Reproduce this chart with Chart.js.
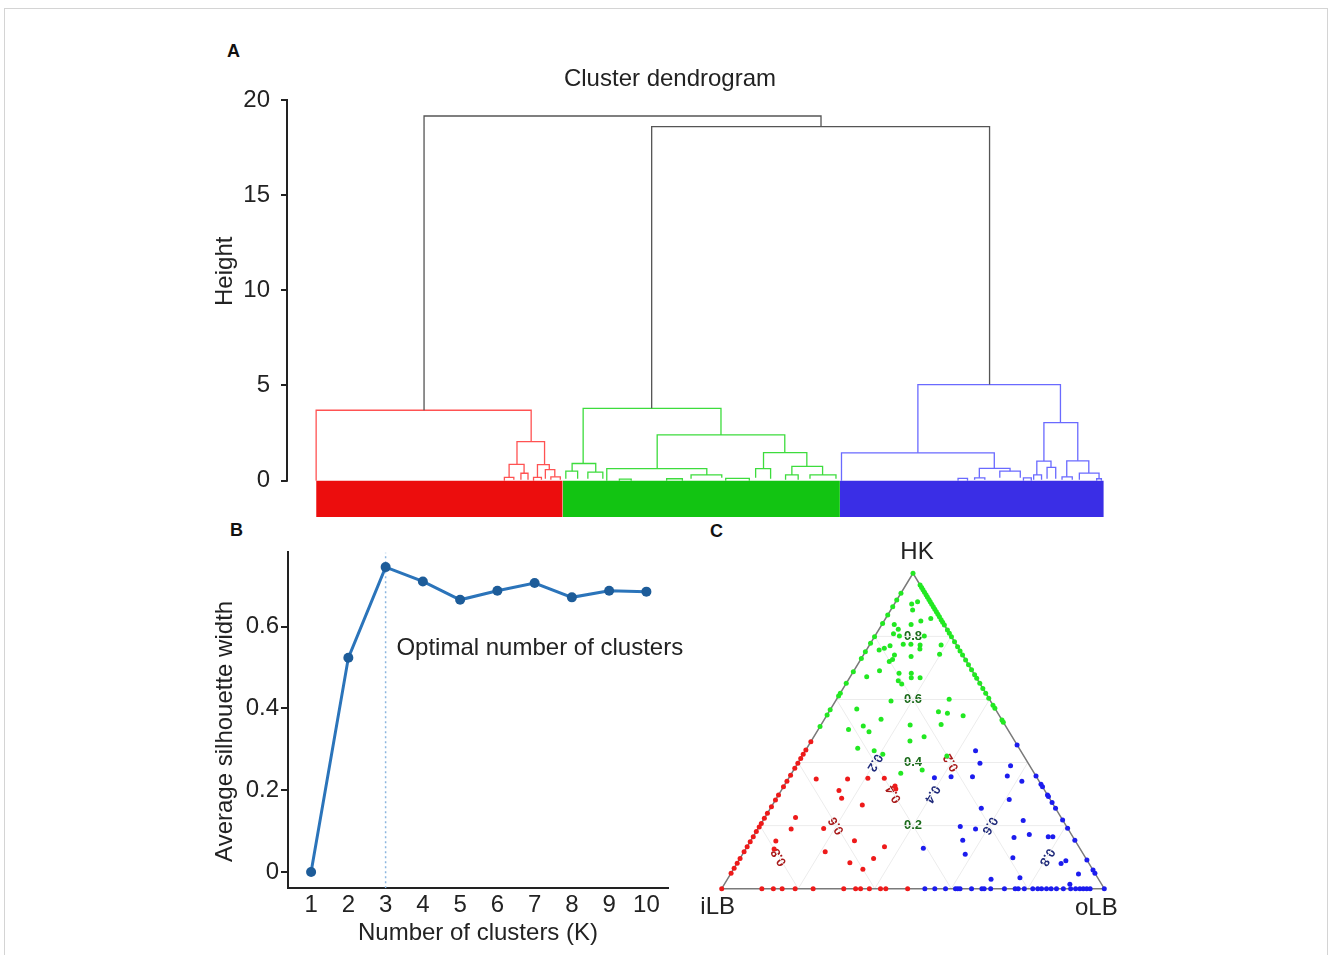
<!DOCTYPE html>
<html>
<head>
<meta charset="utf-8">
<title>Cluster analysis</title>
<script src="https://cdn.jsdelivr.net/npm/chart.js@4.4.1/dist/chart.umd.min.js"></script>
<style>
  body { margin: 0; background: #fff; width: 1328px; height: 955px; position: relative; overflow: hidden;
         font-family: "Liberation Sans", Arial, sans-serif; }
  .frame { position: absolute; left: 4px; top: 8px; width: 1322px; height: 980px; border: 1px solid #d4d4d4; }
  .panel { position: absolute; }
  .tag { position: absolute; font-weight: bold; font-size: 18px; line-height: 18px; color: #111; }
</style>
</head>
<body>
<div class="frame"></div>
<div class="tag" style="left:227px;top:42px">A</div>
<div class="tag" style="left:230px;top:521px">B</div>
<div class="tag" style="left:710px;top:522px">C</div>
<canvas id="chartA" class="panel" style="left:200px;top:30px" width="940" height="513"></canvas>
<canvas id="chartB" class="panel" style="left:200px;top:536px" width="490" height="414"></canvas>
<canvas id="chartC" class="panel" style="left:700px;top:525px" width="440" height="420"></canvas>
<script>
// ---- Panel A: dendrogram, merges as [xLeft, xRight, hLeft, hRight, hTop], x = leaf position (0-100)
const heightTicks = [0, 5, 10, 15, 20];
const leafDepth = -1.91;
const clusterSpans = [[0, 31.3], [31.3, 66.5], [66.5, 100]];
const rootMerges = [
  [13.7, 64.1, 3.7, 18.6, 19.16],
  [42.6, 85.5, 3.8, 5.05, 18.6]
];
const redMerges = [
  [0, 27.3, 0, 2.05, 3.7],
  [25.5, 29.0, 0.85, 0.84, 2.05],
  [24.5, 26.4, 0.17, 0.39, 0.85],
  [26.0, 26.9, 0.05, 0.05, 0.39],
  [28.1, 29.6, 0.17, 0.58, 0.84],
  [29.1, 30.3, 0.1, 0.2, 0.58],
  [29.8, 31.0, 0.05, 0.05, 0.2],
  [23.9, 25.1, 0, 0.05, 0.17],
  [27.6, 28.6, 0, 0.05, 0.17]
];
const greenMerges = [
  [33.9, 51.4, 0.9, 2.4, 3.8],
  [32.5, 35.5, 0.5, 0.45, 0.9],
  [31.7, 33.2, 0.1, 0.1, 0.5],
  [34.5, 36.4, 0.1, 0.1, 0.45],
  [43.3, 59.5, 0.63, 1.47, 2.4],
  [36.9, 49.6, 0, 0.3, 0.63],
  [47.6, 51.5, 0.1, 0.15, 0.3],
  [56.8, 62.3, 0.63, 0.75, 1.47],
  [55.8, 57.7, 0.15, 0.1, 0.63],
  [60.4, 64.3, 0.3, 0.3, 0.75],
  [59.6, 61.2, 0.05, 0.05, 0.3],
  [62.7, 66.0, 0.1, 0.1, 0.3],
  [52.0, 55.0, 0, 0, 0.12],
  [44.5, 46.5, 0, 0, 0.1],
  [38.5, 40.0, 0, 0, 0.08]
];
const blueMerges = [
  [76.4, 94.5, 1.46, 3.05, 5.05],
  [66.7, 86.1, 0, 0.65, 1.46],
  [84.2, 88.1, 0.15, 0.5, 0.65],
  [83.6, 84.9, 0.05, 0.05, 0.15],
  [86.8, 89.4, 0.15, 0.15, 0.5],
  [92.4, 96.7, 1.03, 1.04, 3.05],
  [91.5, 93.3, 0.3, 0.7, 1.03],
  [91.1, 92.1, 0.05, 0.05, 0.3],
  [92.8, 93.9, 0.1, 0.1, 0.7],
  [95.3, 98.1, 0.2, 0.4, 1.04],
  [94.7, 96.0, 0.05, 0.05, 0.2],
  [96.9, 99.4, 0.05, 0.1, 0.4],
  [99.1, 99.7, 0, 0, 0.1],
  [81.5, 82.7, 0, 0, 0.12],
  [89.8, 90.8, 0, 0, 0.15]
];

// ---- Panel B: silhouette
const clusterK = [1, 2, 3, 4, 5, 6, 7, 8, 9, 10];
const silhouette = [0, 0.524, 0.746, 0.711, 0.666, 0.688, 0.707, 0.672, 0.688, 0.686];
const silTicks = [0, 0.2, 0.4, 0.6];
const optimalK = 3;

// ---- Panel C: ternary, points as [HK, oLB] (iLB = 1 - HK - oLB)
const ternaryTicks = [0.2, 0.4, 0.6, 0.8];
const greenEdgeIlb = [0.937, 0.915, 0.894, 0.868, 0.841, 0.799, 0.778, 0.751, 0.730, 0.688, 0.651, 0.620,
  0.611, 0.567, 0.551, 0.514];            // on the HK-iLB edge (oLB = 0)
const greenEdgeOlb = [0.963, 0.955, 0.948, 0.94, 0.932, 0.925, 0.917, 0.91, 0.902, 0.894, 0.886, 0.878, 0.87,
  0.862, 0.853, 0.845, 0.836, 0.820, 0.810, 0.799, 0.783, 0.767, 0.754, 0.741, 0.725, 0.710, 0.694, 0.678,
  0.667, 0.651, 0.635, 0.620, 0.604, 0.582, 0.572, 0.535, 0.528];   // on the HK-oLB edge (iLB = 0)
const greenInside = [
  [1, 0], [0.910, 0.057], [0.903, 0.045], [0.884, 0.057], [0.857, 0.118], [0.849, 0.096], [0.838, 0.032],
  [0.823, 0.050], [0.808, 0.045], [0.838, 0.076], [0.801, 0.064], [0.801, 0.129], [0.775, 0.087],
  [0.775, 0.107], [0.773, 0.132], [0.773, 0.187], [0.770, 0.055], [0.762, 0.044], [0.757, 0.033],
  [0.760, 0.138], [0.736, 0.127], [0.741, 0.081], [0.727, 0.083], [0.720, 0.078], [0.743, 0.198],
  [0.691, 0.067], [0.672, 0.043], [0.683, 0.122], [0.683, 0.154], [0.669, 0.161], [0.669, 0.184],
  [0.659, 0.132], [0.649, 0.146], [0.601, 0.294], [0.561, 0.286], [0.556, 0.312], [0.548, 0.357],
  [0.519, 0.233], [0.521, 0.313], [0.468, 0.258], [0.482, 0.288], [0.421, 0.378], [0.376, 0.336],
  [0.595, 0.145], [0.570, 0.068], [0.537, 0.148], [0.516, 0.112], [0.498, 0.136], [0.505, 0.079],
  [0.445, 0.133], [0.437, 0.180], [0.426, 0.208], [0.366, 0.285]
];
const redEdgeIlb = [0.466, 0.440, 0.426, 0.413, 0.398, 0.382, 0.360, 0.341, 0.323, 0.297, 0.281, 0.260,
  0.239, 0.223, 0.207, 0.196, 0.181, 0.165, 0.149, 0.133, 0.117, 0.096, 0.081, 0.065, 0.049, 0];  // oLB = 0
const redEdgeBase = [0.105, 0.135, 0.158, 0.192, 0.239, 0.319, 0.350, 0.363, 0.386, 0.415, 0.429, 0.486]; // HK = 0
const redInside = [
  [0.348, 0.073], [0.348, 0.155], [0.350, 0.207], [0.350, 0.250], [0.326, 0.290], [0.316, 0.297],
  [0.311, 0.151], [0.287, 0.170], [0.265, 0.235], [0.226, 0.080], [0.189, 0.087], [0.191, 0.171],
  [0.151, 0.066], [0.126, 0.074], [0.152, 0.271], [0.133, 0.359], [0.117, 0.212], [0.096, 0.349],
  [0.082, 0.294], [0.062, 0.338]
];
const blueEdgeOlb = [0.456, 0.357, 0.331, 0.323, 0.297, 0.292, 0.273, 0.255, 0.218, 0.192, 0.154, 0.091,
  0.059, 0.049, 0];                       // HK values on the HK-oLB edge (iLB = 0)
const blueEdgeBase = [0.531, 0.557, 0.585, 0.611, 0.617, 0.623, 0.653, 0.680, 0.686, 0.703, 0.739, 0.767,
  0.775, 0.791, 0.813, 0.826, 0.836, 0.849, 0.861, 0.875, 0.893, 0.912, 0.925, 0.936, 0.945, 0.954, 0.963]; // HK = 0
const blueInside = [
  [0.437, 0.445], [0.398, 0.476], [0.352, 0.380], [0.355, 0.422], [0.355, 0.478], [0.390, 0.560],
  [0.357, 0.568], [0.341, 0.614], [0.283, 0.610], [0.255, 0.551], [0.216, 0.680], [0.172, 0.718],
  [0.162, 0.683], [0.165, 0.771], [0.165, 0.783], [0.197, 0.525], [0.189, 0.569], [0.154, 0.553],
  [0.128, 0.463], [0.109, 0.582], [0.098, 0.712], [0.080, 0.847], [0.089, 0.855], [0.047, 0.909],
  [0.035, 0.762], [0.030, 0.689], [0.014, 0.903]
];

const FONT = "'Liberation Sans', Arial, sans-serif";
const INK = '#222';
Chart.defaults.font.family = FONT;
Chart.defaults.color = INK;
Chart.defaults.animation = false;
Chart.defaults.events = [];
Chart.defaults.plugins.legend.display = false;
Chart.defaults.plugins.tooltip.enabled = false;

// rotated y title drawn next to the axis, centred where R put it
function sideTitle(text, atValue) {
  return {
    id: 'sideTitle',
    afterDraw(chart) {
      const s = chart.scales.y, ctx = chart.ctx;
      ctx.save();
      ctx.font = '24px ' + FONT;
      ctx.fillStyle = INK; ctx.textAlign = 'center'; ctx.textBaseline = 'middle';
      ctx.translate(s.left + 25, s.getPixelForValue(atValue));
      ctx.rotate(-Math.PI / 2);
      ctx.fillText(text, 0, 0);
      ctx.restore();
    }
  };
}

// ---------- A
function mergeDatasets(merges, color) {
  return merges.map(([xl, xr, hl, hr, ht]) => ({
    data: [{x: xl, y: hl}, {x: xl, y: ht}, {x: xr, y: ht}, {x: xr, y: hr}],
    borderColor: color, borderWidth: 1.3, pointRadius: 0, fill: false, tension: 0
  }));
}
const clusterFill = ['#ec0d0d', '#12c412', '#3a2ee6'];
const leafBlocks = clusterSpans.map(([a, b], i) => ({
  data: [{x: a, y: leafDepth}, {x: b, y: leafDepth}],
  borderColor: clusterFill[i], borderWidth: 0, pointRadius: 0,
  fill: {value: 0}, backgroundColor: clusterFill[i]
}));

const heightAxisLine = {
  id: 'heightAxisLine',
  afterDraw(chart) {
    const s = chart.scales.y, ctx = chart.ctx;
    ctx.save();
    ctx.strokeStyle = INK; ctx.lineWidth = 2;
    ctx.beginPath();
    ctx.moveTo(s.right, s.getPixelForValue(heightTicks[0]) + 1);
    ctx.lineTo(s.right, s.getPixelForValue(heightTicks[heightTicks.length - 1]) - 1);
    ctx.stroke();
    ctx.restore();
  }
};

new Chart(document.getElementById('chartA'), {
  type: 'line',
  data: {
    datasets: [
      ...mergeDatasets(rootMerges, '#555'),
      ...mergeDatasets(redMerges, '#ff5252'),
      ...mergeDatasets(greenMerges, '#3ddc3d'),
      ...mergeDatasets(blueMerges, '#6a6aff'),
      ...leafBlocks
    ]
  },
  options: {
    responsive: false,
    layout: {padding: {left: 0, right: 0, top: 0, bottom: 26}},
    plugins: {
      title: {display: true, text: 'Cluster dendrogram', color: INK,
              font: {size: 24, weight: 'normal'}, padding: {top: 34.6, bottom: 6.6}}
    },
    scales: {
      x: {type: 'linear', min: -3.7, max: 104.6, display: false},
      y: {
        type: 'linear', min: leafDepth, max: 20,
        afterFit: s => { s.width = 87; },
        afterBuildTicks: s => { s.ticks = heightTicks.map(v => ({value: v})); },
        border: {display: false},
        grid: {drawOnChartArea: false, drawTicks: true, tickLength: 6, color: INK, lineWidth: 2},
        ticks: {color: INK, font: {size: 24}, padding: 11}
      }
    }
  },
  plugins: [heightAxisLine, sideTitle('Height', 11)]
});

// ---------- B
const optimalText = {
  id: 'optimalText',
  afterDatasetsDraw(chart) {
    const {ctx, scales: {x, y}} = chart;
    ctx.save();
    ctx.font = '24px ' + FONT;
    ctx.fillStyle = INK; ctx.textAlign = 'left'; ctx.textBaseline = 'middle';
    ctx.fillText('Optimal number of clusters', x.getPixelForValue(optimalK + 0.29), y.getPixelForValue(0.548));
    ctx.restore();
  }
};

new Chart(document.getElementById('chartB'), {
  type: 'line',
  data: {
    datasets: [
      {
        data: clusterK.map((k, i) => ({x: k, y: silhouette[i]})),
        borderColor: '#2b74ba', borderWidth: 3, tension: 0,
        pointRadius: 5, pointBackgroundColor: '#1d5c99', pointBorderWidth: 0
      },
      {
        data: [{x: optimalK, y: -0.04}, {x: optimalK, y: 0.782}],
        borderColor: '#8cb6df', borderWidth: 1.5, borderDash: [2, 3], pointRadius: 0
      }
    ]
  },
  options: {
    responsive: false,
    layout: {padding: {left: 0, right: 22, top: 15.7, bottom: 0}},
    scales: {
      x: {
        type: 'linear', min: 0.38, max: 10.58,
        afterFit: s => { s.height = 61.7; },
        afterBuildTicks: s => { s.ticks = clusterK.map(v => ({value: v})); },
        border: {display: true, color: INK, width: 2},
        grid: {display: false, drawTicks: false},
        ticks: {color: INK, font: {size: 24}, padding: 3},
        title: {display: true, text: 'Number of clusters (K)', color: INK, font: {size: 24}, padding: {top: 0, bottom: 2.6}}
      },
      y: {
        type: 'linear', min: -0.04, max: 0.782,
        afterFit: s => { s.width = 88; },
        afterBuildTicks: s => { s.ticks = silTicks.map(v => ({value: v})); },
        border: {display: true, color: INK, width: 2},
        grid: {drawOnChartArea: false, drawTicks: true, tickLength: 7, color: INK, lineWidth: 2},
        ticks: {color: INK, font: {size: 24}, padding: 2, callback: v => (v === 0 ? '0' : v.toFixed(1))}
      }
    }
  },
  plugins: [optimalText, sideTitle('Average silhouette width', 0.344)]
});

// ---------- C
const toXY = ([hk, olb]) => ({x: olb + hk / 2, y: hk});
const greenPts = [
  ...greenInside,
  ...greenEdgeIlb.map(h => [h, 0]),
  ...greenEdgeOlb.map(h => [h, 1 - h])
];
const redPts = [...redInside, ...redEdgeIlb.map(h => [h, 0]), ...redEdgeBase.map(o => [0, o])];
const bluePts = [...blueInside, ...blueEdgeOlb.map(h => [h, 1 - h]), ...blueEdgeBase.map(o => [0, o])];

const gridLines = [];
ternaryTicks.forEach(v => {
  gridLines.push([[v, 0], [v, 1 - v]]);          // HK = v
  gridLines.push([[1 - v, 0], [0, 1 - v]]);      // iLB = v
  gridLines.push([[0, v], [1 - v, v]]);          // oLB = v
});

function pointSet(pts, color) {
  return {data: pts.map(toXY), showLine: false, pointRadius: 2.5, pointBorderWidth: 0,
          pointBackgroundColor: color, clip: false};
}

const ternaryText = {
  id: 'ternaryText',
  beforeDatasetsDraw(chart) {
    const {ctx, scales: {x, y}} = chart;
    const pix = c => { const p = toXY(c); return {x: x.getPixelForValue(p.x), y: y.getPixelForValue(p.y)}; };
    const top = pix([1, 0]), left = pix([0, 0]), right = pix([0, 1]);
    const redAngle = Math.atan2(right.y - top.y, right.x - top.x) + Math.PI;
    const blueAngle = Math.atan2(top.y - left.y, top.x - left.x) + Math.PI;
    const put = (txt, p, ang, color) => {
      ctx.save();
      ctx.translate(p.x, p.y); ctx.rotate(ang);
      ctx.fillStyle = color; ctx.textAlign = 'center'; ctx.textBaseline = 'middle';
      ctx.fillText(txt, 0, 0);
      ctx.restore();
    };
    ctx.save();
    ctx.font = "bold 13px 'Liberation Sans Narrow', " + FONT;
    ternaryTicks.forEach(v => {
      const t = v.toFixed(1);
      put(t, pix([v, (1 - v) / 2]), 0, '#1b6b1b');
      put(t, pix([(1 - v) / 2, (1 - v) / 2]), redAngle, '#a81a1a');
      put(t, pix([(1 - v) / 2, v]), blueAngle, '#1f2a7a');
    });
    ctx.font = '24px ' + FONT;
    put('HK', {x: top.x + 4, y: top.y - 21}, 0, INK);
    put('iLB', {x: left.x - 4, y: left.y + 19}, 0, INK);
    put('oLB', {x: right.x - 8, y: right.y + 20}, 0, INK);
    ctx.restore();
  }
};

new Chart(document.getElementById('chartC'), {
  type: 'line',
  data: {
    datasets: [
      pointSet(greenPts, '#22e822'),
      pointSet(redPts, '#ee1a1a'),
      pointSet(bluePts, '#1c1cee'),
      {data: [[0, 0], [0, 1], [1, 0], [0, 0]].map(toXY), borderColor: '#7a7a7a', borderWidth: 1.5,
       pointRadius: 0, clip: false},
      ...gridLines.map(seg => ({data: seg.map(toXY), borderColor: '#ececec', borderWidth: 1, pointRadius: 0}))
    ]
  },
  options: {
    responsive: false,
    layout: {padding: {left: 21.7, right: 35.7, top: 48.3, bottom: 56.3}},
    scales: {
      x: {type: 'linear', min: 0, max: 1, display: false},
      y: {type: 'linear', min: 0, max: 1, display: false}
    }
  },
  plugins: [ternaryText]
});
</script>
</body>
</html>
